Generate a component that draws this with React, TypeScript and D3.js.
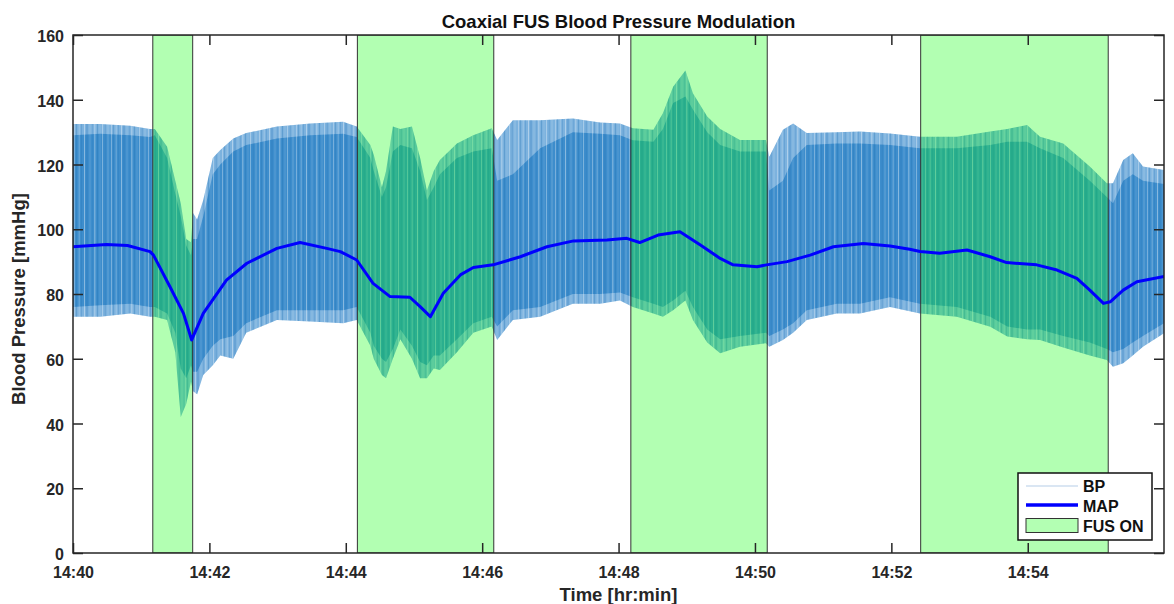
import React, { useEffect, useRef } from "react";
import * as d3 from "d3";

// canvas
const width = 1174;
const height = 604;
const margin = { top: 35, right: 10, bottom: 51, left: 73 };

// minutes after 14:40
const bpMinutes = [
  0.0, 0.4, 0.84, 1.13, 1.2, 1.38, 1.5, 1.58, 1.66, 1.73, 1.76, 1.82, 1.91, 2.05, 2.16, 2.35, 2.54, 2.99, 3.48,
  3.96, 4.16, 4.36, 4.41, 4.53, 4.59, 4.69, 4.8, 4.97, 5.09, 5.19, 5.29, 5.38, 5.63, 5.87, 6.14, 6.22, 6.45, 6.85,
  7.33, 7.73, 8.02, 8.21, 8.51, 8.65, 8.8, 8.98, 9.09, 9.3, 9.49, 9.78, 10.16, 10.21, 10.41, 10.56, 10.76, 11.2,
  11.54, 11.98, 12.42, 12.96, 13.45, 13.7, 13.99, 14.18, 14.52, 14.91, 15.16, 15.25, 15.4, 15.54, 15.69, 16.0,
];
// systolic peaks (outer) and the dense part of the band
const bpHigh = [
  132.5, 132.5, 132, 131, 131, 125.5, 115, 108, 97, 96, 105, 103, 109, 122, 124.5, 128, 129.7, 131.7, 132.7,
  133.2, 131.7, 126, 123, 113, 118, 131.7, 131, 131.7, 122, 112, 118, 121.4, 126.5, 129, 131.2, 127.6, 133.7, 133.7,
  134.2, 133, 132.7, 131.2, 130.7, 135.8, 144, 149, 142, 134.8, 131, 127.6, 127.6, 122.4, 130.7, 132.7, 129.7, 130,
  130.2, 129.6, 128.6, 128.6, 130.2, 131, 132.2, 128.6, 126.5, 119.4, 114.2, 114.2, 121.4, 123.5, 119.4, 118.3,
];
const bpHighCore = [
  129, 129.5, 129, 128.5, 129, 122, 111, 104, 95, 92, 97, 97, 104, 117, 120, 124, 126, 128, 129,
  129.5, 128.5, 122, 118, 110, 113, 124, 126, 125, 118, 109, 113, 117, 122, 124, 125, 115, 117, 125,
  130, 129.5, 129, 127.5, 127, 131, 139, 141, 137, 130, 126, 124, 124, 112, 115, 122, 126, 126.5,
  126.5, 126, 125, 125, 126, 127, 127, 125, 122, 115, 110, 108, 115, 117, 115, 114,
];
const bpLowCore = [
  76, 76.5, 77, 76, 76, 74, 68, 57, 54, 58, 56, 56, 60, 64, 66, 67, 71, 75, 75,
  75, 76, 68, 64, 60, 59, 63, 69, 64, 59, 58, 61, 61, 66, 71, 73, 70, 75, 76,
  80, 80, 80.5, 79, 77, 76, 78, 81, 76, 69, 66, 67, 68, 67, 69, 71, 75, 77,
  77, 79, 77, 76, 73, 70, 69, 69, 67, 65, 63, 62, 63, 65, 67, 71,
];
// diastolic troughs (outer)
const bpLow = [
  73, 73, 74, 73, 73, 72, 62, 42, 46, 53, 50, 49, 55, 58, 61, 60, 68, 72, 71.5,
  71, 72, 64, 60, 55, 54, 60, 66, 60, 54, 54, 57, 56.5, 62, 68, 70, 65.8, 72, 73,
  77, 77, 78, 76, 74, 73, 75, 78, 72, 65, 61.7, 63.7, 64.8, 63.7, 65.8, 68, 72, 74,
  74, 76, 74, 73, 69.9, 66.9, 66, 65.8, 63.5, 61, 59.6, 57.5, 58.6, 61, 63.7, 67.9,
];

const mapMinutes = [
  0.0, 0.49, 0.8, 1.13, 1.18, 1.42, 1.62, 1.74, 1.91, 2.25, 2.55, 2.99, 3.33, 3.72, 3.92, 4.16, 4.4, 4.65, 4.94,
  5.09, 5.24, 5.43, 5.68, 5.87, 6.16, 6.56, 6.95, 7.34, 7.83, 8.12, 8.31, 8.58, 8.9, 9.2, 9.49, 9.68, 10.03,
  10.17, 10.47, 10.81, 11.15, 11.59, 11.98, 12.27, 12.42, 12.71, 13.11, 13.45, 13.69, 14.13, 14.43, 14.72, 14.91,
  15.11, 15.21, 15.4, 15.6, 16.0,
];
const mapValues = [
  94.6, 95.3, 95.0, 93.1, 92.0, 82.3, 74.0, 65.8, 74.0, 84.3, 89.5, 94.1, 95.9, 94.1, 93.1, 90.5, 83.3, 79.2, 79.0,
  76.1, 73.0, 80.2, 85.9, 88.2, 89.0, 91.5, 94.6, 96.4, 96.7, 97.2, 95.9, 98.2, 99.2, 95.1, 91.0, 89.0, 88.4,
  89.0, 90.0, 92.0, 94.6, 95.6, 94.8, 93.8, 93.1, 92.6, 93.6, 91.5, 89.7, 89.0, 87.4, 84.8, 81.2,
  77.1, 77.6, 81.2, 83.8, 85.4,
];

// FUS on windows (minutes after 14:40)
const fusStart = [1.17, 4.17, 8.18, 12.43];
const fusEnd = [1.755, 6.17, 10.18, 15.18];

const yTicks = [0, 20, 40, 60, 80, 100, 120, 140, 160];
const xTickMinutes = [0, 2, 4, 6, 8, 10, 12, 14];
const legendLabels = ["BP", "MAP", "FUS ON"];

const t0 = new Date(2024, 0, 1, 14, 40, 0);
const toDate = (m: number) => new Date(t0.getTime() + m * 60000);

const axisColor = "#262626";
const font = "'Liberation Sans', Arial, Helvetica, sans-serif";

const App = () => {
  const ref = useRef<SVGSVGElement>(null);

  useEffect(() => {
    const svg = d3.select(ref.current);
    svg.selectAll("*").remove();

    const x0 = margin.left;
    const x1 = width - margin.right;
    const y0 = height - margin.bottom;
    const y1 = margin.top;

    const x = d3.scaleTime().domain([t0, toDate(15.998)]).range([x0, x1]);
    const y = d3.scaleLinear().domain([0, 160]).range([y0, y1]);

    const defs = svg.append("defs");
    defs
      .append("clipPath")
      .attr("id", "plotClip")
      .append("rect")
      .attr("x", x0)
      .attr("y", y1)
      .attr("width", x1 - x0)
      .attr("height", y0 - y1);

    // vertical striations of the beat-to-beat trace (texture only)
    const pat = defs
      .append("pattern")
      .attr("id", "beats")
      .attr("patternUnits", "userSpaceOnUse")
      .attr("width", 37)
      .attr("height", 10);
    const stripes = [
      { x: 0, w: 1, c: "#ffffff", o: 0.3 },
      { x: 2, w: 1, c: "#1a6aad", o: 0.25 },
      { x: 4.5, w: 1.5, c: "#ffffff", o: 0.18 },
      { x: 7, w: 1, c: "#1a6aad", o: 0.2 },
      { x: 10, w: 1, c: "#ffffff", o: 0.38 },
      { x: 12, w: 2, c: "#1a6aad", o: 0.2 },
      { x: 15.5, w: 1, c: "#ffffff", o: 0.15 },
      { x: 18, w: 1, c: "#1a6aad", o: 0.15 },
      { x: 20, w: 1.5, c: "#ffffff", o: 0.28 },
      { x: 23, w: 1, c: "#1a6aad", o: 0.28 },
      { x: 25.5, w: 1, c: "#ffffff", o: 0.12 },
      { x: 28, w: 1, c: "#ffffff", o: 0.32 },
      { x: 30.5, w: 1.5, c: "#1a6aad", o: 0.18 },
      { x: 33.5, w: 1, c: "#ffffff", o: 0.2 },
    ];
    stripes.forEach((s) =>
      pat.append("rect").attr("x", s.x).attr("y", 0).attr("width", s.w).attr("height", 10).attr("fill", s.c).attr("opacity", s.o)
    );

    svg.append("rect").attr("width", width).attr("height", height).attr("fill", "#ffffff");

    const plot = svg.append("g").attr("clip-path", "url(#plotClip)");

    const idx = d3.range(bpMinutes.length);
    const outer = d3
      .area<number>()
      .x((i) => x(toDate(bpMinutes[i])))
      .y0((i) => y(bpLow[i]))
      .y1((i) => y(bpHigh[i]));
    const core = d3
      .area<number>()
      .x((i) => x(toDate(bpMinutes[i])))
      .y0((i) => y(bpLowCore[i]))
      .y1((i) => y(bpHighCore[i]));

    plot.append("path").datum(idx).attr("d", outer).attr("fill", "#7cb2de");
    plot.append("path").datum(idx).attr("d", core).attr("fill", "#3d8dcc");
    plot.append("path").datum(idx).attr("d", outer).attr("fill", "url(#beats)");

    // FUS ON patches
    const fus = d3.range(fusStart.length);
    plot
      .selectAll("rect.fus")
      .data(fus)
      .join("rect")
      .attr("class", "fus")
      .attr("x", (i) => x(toDate(fusStart[i])))
      .attr("width", (i) => x(toDate(fusEnd[i])) - x(toDate(fusStart[i])))
      .attr("y", y1)
      .attr("height", y0 - y1)
      .attr("fill", "rgb(0,255,0)")
      .attr("fill-opacity", 0.3)
      .attr("stroke", "#333333")
      .attr("stroke-width", 1);

    // MAP
    const mapLine = d3
      .line<number>()
      .x((i) => x(toDate(mapMinutes[i])))
      .y((i) => y(mapValues[i]));
    plot
      .append("path")
      .datum(d3.range(mapMinutes.length))
      .attr("d", mapLine)
      .attr("fill", "none")
      .attr("stroke", "#0000ff")
      .attr("stroke-width", 3)
      .attr("stroke-linejoin", "round");

    // axes, ticks pointing inward
    const fmt = d3.timeFormat("%H:%M");
    const xTicks = xTickMinutes.map(toDate);

    const styleAxis = (g: any) => {
      g.select(".domain").remove();
      g.selectAll("line").attr("stroke", axisColor).attr("stroke-width", 1.5);
      g.selectAll("text")
        .attr("fill", axisColor)
        .attr("font-family", font)
        .attr("font-weight", "bold")
        .attr("font-size", 16);
    };

    svg
      .append("g")
      .attr("transform", `translate(0,${y0})`)
      .call(d3.axisBottom(x).tickValues(xTicks).tickFormat(fmt as any).tickSizeInner(-10).tickSizeOuter(0).tickPadding(14))
      .call(styleAxis);
    svg
      .append("g")
      .attr("transform", `translate(0,${y1})`)
      .call(d3.axisTop(x).tickValues(xTicks).tickFormat(() => "").tickSizeInner(-10).tickSizeOuter(0))
      .call(styleAxis);
    const left = svg
      .append("g")
      .attr("transform", `translate(${x0},0)`)
      .call(d3.axisLeft(y).tickValues(yTicks).tickSizeInner(-10).tickSizeOuter(0).tickPadding(9))
      .call(styleAxis);
    left.selectAll("text").attr("dy", "0.42em");
    svg
      .append("g")
      .attr("transform", `translate(${x1},0)`)
      .call(d3.axisRight(y).tickValues(yTicks).tickFormat(() => "").tickSizeInner(-10).tickSizeOuter(0))
      .call(styleAxis);

    svg
      .append("rect")
      .attr("x", x0)
      .attr("y", y1)
      .attr("width", x1 - x0)
      .attr("height", y0 - y1)
      .attr("fill", "none")
      .attr("stroke", axisColor)
      .attr("stroke-width", 1.5);

    // labels
    const label = (sel: any) =>
      sel.attr("font-family", font).attr("font-weight", "bold").attr("fill", "#111111").attr("text-anchor", "middle");

    svg
      .append("text")
      .attr("x", (x0 + x1) / 2)
      .attr("y", 28)
      .attr("font-size", 18.5)
      .text("Coaxial FUS Blood Pressure Modulation")
      .call(label);
    svg
      .append("text")
      .attr("x", (x0 + x1) / 2)
      .attr("y", 601)
      .attr("font-size", 18.5)
      .text("Time [hr:min]")
      .call(label)
      .attr("fill", axisColor);
    svg
      .append("text")
      .attr("transform", `translate(25,${(y0 + y1) / 2 + 5}) rotate(-90)`)
      .attr("font-size", 18.5)
      .text("Blood Pressure [mmHg]")
      .call(label)
      .attr("fill", axisColor);

    // legend
    const lg = svg.append("g").attr("transform", "translate(1018,473)");
    lg.append("rect")
      .attr("width", 134)
      .attr("height", 67)
      .attr("fill", "#ffffff")
      .attr("stroke", "#111111")
      .attr("stroke-width", 1.5);
    lg.append("line").attr("x1", 8).attr("x2", 60).attr("y1", 13).attr("y2", 13).attr("stroke", "#dae6f3").attr("stroke-width", 2);
    lg.append("line").attr("x1", 8).attr("x2", 60).attr("y1", 32).attr("y2", 32).attr("stroke", "#0000ff").attr("stroke-width", 3.5);
    lg.append("rect")
      .attr("x", 8)
      .attr("y", 45.5)
      .attr("width", 52)
      .attr("height", 14)
      .attr("fill", "rgb(179,255,179)")
      .attr("stroke", "#333333")
      .attr("stroke-width", 1);
    lg.selectAll("text.lab")
      .data(legendLabels)
      .join("text")
      .attr("class", "lab")
      .attr("x", 65)
      .attr("y", (_d, i) => 19 + i * 20)
      .attr("font-family", font)
      .attr("font-weight", "bold")
      .attr("font-size", 16)
      .attr("fill", "#111111")
      .text((d) => d);
  }, []);

  return <svg ref={ref} width={width} height={height} style={{ position: "absolute", left: 0, top: 0 }} />;
};

export default App;
